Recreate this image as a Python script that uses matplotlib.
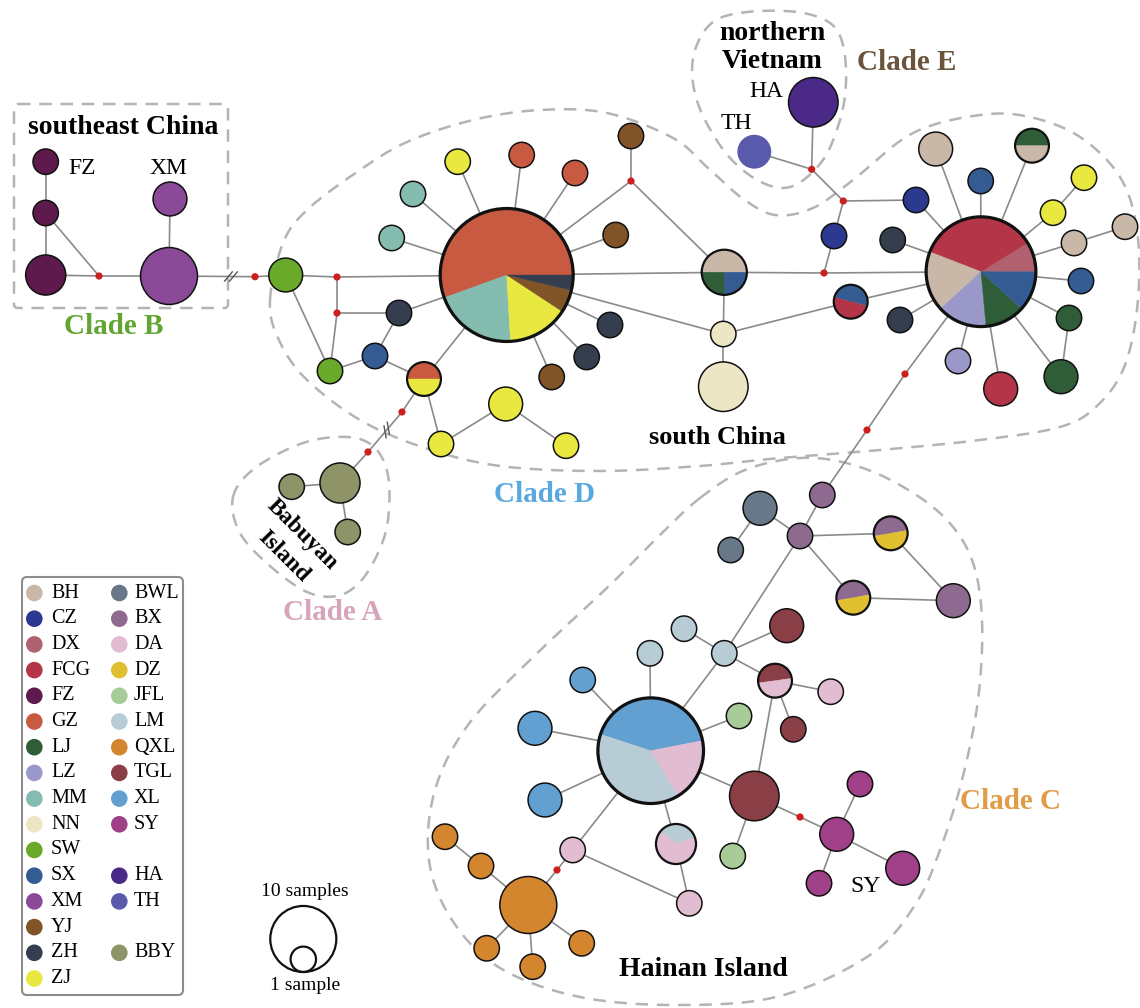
"""
Median-joining haplotype network of the five clades (A-E).
Nodes are pies sized by sample count, coloured by population.
Output: out.png
"""

import numpy as np
import matplotlib
matplotlib.use("Agg")
import matplotlib.pyplot as plt
from matplotlib.patches import Circle, Wedge, FancyBboxPatch

plt.rcParams["font.family"] = ["Liberation Serif", "DejaVu Serif"]

# population colours
POP_COLORS = {
    "BH": "#c9b8a8", "CZ": "#2b3990", "DX": "#b0606e", "FCG": "#b33547",
    "FZ": "#5e1a4c", "GZ": "#c85a42", "LJ": "#2f5d38", "LZ": "#9a98c8",
    "MM": "#84bcb0", "NN": "#ede6c4", "SW": "#6aaa2a", "SX": "#345c92",
    "XM": "#8a4a98", "YJ": "#805426", "ZH": "#343e4e", "ZJ": "#e8e840",
    "BWL": "#687888", "BX": "#8e6a90", "DA": "#e2bcd0", "DZ": "#e0c030",
    "JFL": "#a8cc98", "LM": "#b8ccd6", "QXL": "#d4862e", "TGL": "#8a3e46",
    "XL": "#62a0d2", "SY": "#a04088", "HA": "#4a2a86", "TH": "#5a5aac",
    "BBY": "#8e9468",
}

# legend layout: (population, row) per column
legend_left = ["BH", "CZ", "DX", "FCG", "FZ", "GZ", "LJ", "LZ", "MM", "NN",
               "SW", "SX", "XM", "YJ", "ZH", "ZJ"]
legend_right = [("BWL", 0), ("BX", 1), ("DA", 2), ("DZ", 3), ("JFL", 4),
                ("LM", 5), ("QXL", 6), ("TGL", 7), ("XL", 8), ("SY", 9),
                ("HA", 11), ("TH", 12), ("BBY", 14)]

# ---- haplotype nodes: id, x, y, {population: samples}, start angle of first slice
clade_b_nodes = [
    ("b1", 45.7, 161.7, {"FZ": 1}, 0),
    ("b2", 45.7, 213.0, {"FZ": 1}, 0),
    ("b3", 45.7, 275.0, {"FZ": 3}, 0),
    ("b4", 170.0, 199.0, {"XM": 2}, 0),
    ("b5", 169.0, 276.0, {"XM": 7}, 0),
]
clade_d_nodes = [
    ("d_sw", 285.7, 275.0, {"SW": 2}, 0),
    ("d_sw2", 330.0, 371.0, {"SW": 1}, 0),
    ("d_zh1", 399.0, 313.0, {"ZH": 1}, 0),
    ("d_sx", 375.0, 356.0, {"SX": 1}, 0),
    ("d_gzzj", 424.0, 379.0, {"GZ": 1, "ZJ": 1}, 0),
    ("d_gz", 506.7, 275.0, {"GZ": 30, "MM": 11, "ZJ": 8, "YJ": 3, "ZH": 2}, 0),
    ("d_zj1", 457.7, 161.7, {"ZJ": 1}, 0),
    ("d_gz1", 521.7, 155.0, {"GZ": 1}, 0),
    ("d_gz2", 575.0, 173.0, {"GZ": 1}, 0),
    ("d_yj1", 631.0, 136.0, {"YJ": 1}, 0),
    ("d_yj2", 615.7, 235.0, {"YJ": 1}, 0),
    ("d_mm1", 413.0, 194.0, {"MM": 1}, 0),
    ("d_mm2", 391.7, 238.0, {"MM": 1}, 0),
    ("d_zh2", 610.0, 325.0, {"ZH": 1}, 0),
    ("d_zh3", 586.7, 357.0, {"ZH": 1}, 0),
    ("d_yj3", 551.7, 377.0, {"YJ": 1}, 0),
    ("d_zj2", 505.7, 404.0, {"ZJ": 2}, 0),
    ("d_zj3", 441.0, 444.0, {"ZJ": 1}, 0),
    ("d_zj4", 566.0, 445.7, {"ZJ": 1}, 0),
]
south_china_nodes = [
    ("s_mix", 724.3, 272.3, {"BH": 2, "LJ": 1, "SX": 1}, 0),
    ("s_nn1", 723.3, 334.0, {"NN": 1}, 0),
    ("s_nn2", 723.3, 386.7, {"NN": 5}, 0),
    ("s_big", 981.0, 271.7, {"DX": 3, "FCG": 12, "BH": 6, "LZ": 5, "LJ": 4, "SX": 4}, 0),
    ("s_sxfcg", 850.7, 301.7, {"SX": 1, "FCG": 1}, -15),
    ("s_cz1", 834.0, 236.0, {"CZ": 1}, 0),
    ("s_cz2", 916.0, 200.0, {"CZ": 1}, 0),
    ("s_zh1", 892.7, 240.0, {"ZH": 1}, 0),
    ("s_zh2", 900.0, 320.0, {"ZH": 1}, 0),
    ("s_bh1", 935.7, 149.0, {"BH": 2}, 0),
    ("s_sx1", 980.7, 181.0, {"SX": 1}, 0),
    ("s_ljbh", 1032.0, 145.7, {"LJ": 1, "BH": 1}, 0),
    ("s_zj1", 1053.0, 212.7, {"ZJ": 1}, 0),
    ("s_zj2", 1084.0, 177.7, {"ZJ": 1}, 0),
    ("s_bh2", 1074.0, 243.0, {"BH": 1}, 0),
    ("s_bh3", 1125.0, 226.7, {"BH": 1}, 0),
    ("s_sx2", 1081.0, 281.0, {"SX": 1}, 0),
    ("s_lj1", 1069.0, 318.0, {"LJ": 1}, 0),
    ("s_lj2", 1061.0, 376.7, {"LJ": 2}, 0),
    ("s_fcg", 1000.7, 389.0, {"FCG": 2}, 0),
    ("s_lz", 958.0, 361.0, {"LZ": 1}, 0),
]
clade_e_nodes = [
    ("e_ha", 813.3, 102.3, {"HA": 5}, 0),
    ("e_th", 754.3, 151.7, {"TH": 2}, 0),
]
clade_a_nodes = [
    ("a1", 291.7, 486.7, {"BBY": 1}, 0),
    ("a2", 340.0, 483.0, {"BBY": 3}, 0),
    ("a3", 347.7, 532.0, {"BBY": 1}, 0),
]
clade_c_nodes = [
    ("c_bx1", 822.3, 495.0, {"BX": 1}, 0),
    ("c_bwl1", 760.0, 508.3, {"BWL": 2}, 0),
    ("c_bwl2", 730.7, 550.0, {"BWL": 1}, 0),
    ("c_bx2", 800.0, 536.0, {"BX": 1}, 0),
    ("c_bxdz1", 890.7, 533.3, {"BX": 1, "DZ": 1}, 10),
    ("c_bxdz2", 853.3, 597.7, {"BX": 1, "DZ": 1}, 10),
    ("c_bx3", 953.3, 600.7, {"BX": 2}, 0),
    ("c_lm1", 684.0, 628.7, {"LM": 1}, 0),
    ("c_lm2", 724.3, 653.3, {"LM": 1}, 0),
    ("c_tgl1", 786.7, 625.7, {"TGL": 2}, 0),
    ("c_tglda", 775.0, 680.7, {"TGL": 1, "DA": 1}, 8),
    ("c_da1", 830.7, 691.7, {"DA": 1}, 0),
    ("c_tgl2", 793.3, 729.3, {"TGL": 1}, 0),
    ("c_lm3", 650.0, 653.3, {"LM": 1}, 0),
    ("c_xl1", 582.7, 680.0, {"XL": 1}, 0),
    ("c_xl2", 535.0, 728.3, {"XL": 2}, 0),
    ("c_jfl1", 739.0, 716.0, {"JFL": 1}, 0),
    ("c_big", 650.7, 750.7, {"XL": 13, "LM": 12, "DA": 6}, 11),
    ("c_xl3", 545.0, 800.0, {"XL": 2}, 0),
    ("c_tgl3", 754.3, 796.0, {"TGL": 5}, 0),
    ("c_lmda", 676.0, 844.0, {"LM": 1, "DA": 2}, 20),
    ("c_da2", 572.7, 850.0, {"DA": 1}, 0),
    ("c_qxl", 528.3, 905.0, {"QXL": 7}, 0),
    ("c_qxl1", 445.0, 836.7, {"QXL": 1}, 0),
    ("c_qxl2", 481.0, 866.0, {"QXL": 1}, 0),
    ("c_qxl3", 486.7, 948.3, {"QXL": 1}, 0),
    ("c_qxl4", 532.7, 966.7, {"QXL": 1}, 0),
    ("c_qxl5", 581.7, 943.3, {"QXL": 1}, 0),
    ("c_da3", 689.3, 903.3, {"DA": 1}, 0),
    ("c_jfl2", 732.7, 856.0, {"JFL": 1}, 0),
    ("c_sy1", 836.7, 834.3, {"SY": 2}, 0),
    ("c_sy2", 860.0, 784.0, {"SY": 1}, 0),
    ("c_sy3", 902.7, 868.3, {"SY": 2}, 0),
    ("c_sy4", 819.0, 883.3, {"SY": 1}, 0),
]

# median vectors (missing haplotypes)
median_vectors = {
    "m1": (99.0, 276.0), "m2": (255.0, 276.7),
    "m3": (337.0, 277.0), "m4": (337.0, 313.0), "m5": (631.0, 181.0),
    "m6": (402.0, 412.0), "m7": (368.0, 452.0),
    "m8": (811.7, 169.3), "m9": (843.3, 201.0), "m10": (824.0, 273.0),
    "m11": (905.0, 374.0), "m12": (867.0, 430.0),
    "m13": (557.0, 870.0), "m14": (800.0, 817.0),
}

edges = [
    # clade B
    ("b1", "b2"), ("b2", "b3"), ("b2", "m1"), ("b3", "m1"), ("m1", "b5"),
    ("b4", "b5"), ("b5", "m2"), ("m2", "d_sw"),
    # clade D
    ("d_sw", "m3"), ("m3", "d_gz"), ("m3", "m4"), ("m4", "d_zh1"), ("m4", "d_sw2"),
    ("d_sw", "d_sw2"), ("d_sw2", "d_sx"), ("d_sx", "d_zh1"), ("d_sx", "d_gzzj"),
    ("d_zh1", "d_gz"), ("d_gzzj", "d_gz"), ("d_gzzj", "d_zj3"), ("d_zj3", "d_zj2"),
    ("d_zj2", "d_zj4"), ("d_gzzj", "m6"), ("m6", "m7"), ("m7", "a2"),
    ("d_gz", "d_zj1"), ("d_gz", "d_gz1"), ("d_gz", "d_gz2"), ("d_gz", "d_yj2"),
    ("d_gz", "d_mm1"), ("d_gz", "d_mm2"), ("d_gz", "d_zh2"), ("d_gz", "d_zh3"),
    ("d_gz", "d_yj3"), ("d_gz", "m5"), ("m5", "d_yj1"), ("m5", "s_mix"),
    ("d_gz", "s_mix"), ("d_gz", "s_nn1"),
    # south China and clade E
    ("s_mix", "s_nn1"), ("s_nn1", "s_nn2"), ("s_nn1", "s_sxfcg"), ("s_sxfcg", "s_big"),
    ("s_mix", "m10"), ("m10", "s_big"), ("m10", "s_cz1"), ("s_cz1", "m9"),
    ("m9", "s_cz2"), ("m9", "m8"), ("m8", "e_ha"), ("m8", "e_th"), ("s_cz2", "s_big"),
    ("s_big", "s_zh1"), ("s_big", "s_zh2"), ("s_big", "s_bh1"), ("s_big", "s_sx1"),
    ("s_big", "s_ljbh"), ("s_big", "s_zj1"), ("s_big", "s_bh2"), ("s_big", "s_sx2"),
    ("s_big", "s_lj1"), ("s_big", "s_lj2"), ("s_big", "s_fcg"), ("s_big", "s_lz"),
    ("s_zj1", "s_zj2"), ("s_bh2", "s_bh3"), ("s_lj1", "s_lj2"),
    ("s_big", "m11"), ("m11", "m12"), ("m12", "c_bx1"),
    # clade A
    ("a2", "a1"), ("a2", "a3"),
    # clade C
    ("c_bx1", "c_bx2"), ("c_bwl1", "c_bx2"), ("c_bwl1", "c_bwl2"),
    ("c_bx2", "c_bxdz1"), ("c_bx2", "c_bxdz2"), ("c_bxdz1", "c_bx3"), ("c_bxdz2", "c_bx3"),
    ("c_bx2", "c_lm2"), ("c_lm2", "c_lm1"), ("c_lm2", "c_tgl1"), ("c_lm2", "c_tglda"),
    ("c_lm2", "c_big"), ("c_tglda", "c_da1"), ("c_tglda", "c_tgl2"), ("c_tglda", "c_tgl3"),
    ("c_big", "c_lm3"), ("c_big", "c_xl1"), ("c_big", "c_xl2"), ("c_big", "c_jfl1"),
    ("c_big", "c_xl3"), ("c_big", "c_tgl3"), ("c_big", "c_lmda"), ("c_big", "c_da2"),
    ("c_da2", "m13"), ("m13", "c_qxl"), ("c_da2", "c_da3"), ("c_lmda", "c_da3"),
    ("c_qxl", "c_qxl2"), ("c_qxl2", "c_qxl1"), ("c_qxl", "c_qxl3"), ("c_qxl", "c_qxl4"),
    ("c_qxl", "c_qxl5"), ("c_tgl3", "c_jfl2"), ("c_tgl3", "m14"), ("m14", "c_sy1"),
    ("c_sy1", "c_sy2"), ("c_sy1", "c_sy3"), ("c_sy1", "c_sy4"),
]

# long branches drawn with a "//" break: edge and position along it
breaks = [("b5", "m2", 0.72), ("m6", "m7", 0.45)]

# dashed outlines of the clades (control points of closed smooth curves)
outline_d = [(270, 300), (283, 243), (307, 210), (357, 172), (407, 142), (473, 120),
             (540, 110), (607, 113), (673, 138), (708, 168), (742, 198), (775, 215),
             (813, 208), (853, 180), (913, 133), (980, 115), (1030, 117), (1080, 137),
             (1120, 177), (1137, 230), (1138, 300), (1125, 365), (1098, 405),
             (1060, 427), (980, 440), (880, 450), (780, 458), (700, 466), (600, 471),
             (500, 466), (425, 448), (360, 420), (305, 378), (278, 338)]
outline_e = [(695, 50), (713, 22), (747, 12), (797, 12), (830, 23), (843, 45),
             (846, 83), (840, 120), (823, 160), (793, 186), (763, 183), (730, 158),
             (704, 118), (693, 83)]
outline_a = [(233, 497), (255, 468), (303, 443), (347, 437), (374, 447), (388, 475),
             (388, 520), (378, 553), (360, 582), (337, 596), (307, 592), (270, 566),
             (240, 533)]
outline_c = [(700, 498), (745, 470), (800, 458), (850, 464), (900, 485), (945, 518),
             (972, 560), (982, 620), (978, 700), (962, 780), (940, 850), (915, 905),
             (870, 955), (780, 996), (680, 1005), (580, 997), (500, 968), (452, 920),
             (429, 860), (435, 790), (468, 725), (530, 660), (610, 585), (660, 535)]

# sample-count scale
scale_counts = [10, 1]


def node_radius(n):
    """Circle radius (px) for a haplotype of n samples."""
    return 12.7 * n ** 0.415


def smooth_closed(points, steps=24):
    """Closed Catmull-Rom curve through the control points."""
    p = np.asarray(points, dtype=float)
    k = len(p)
    t = np.linspace(0, 1, steps, endpoint=False)[:, None]
    segs = []
    for i in range(k):
        p0, p1, p2, p3 = p[i - 1], p[i], p[(i + 1) % k], p[(i + 2) % k]
        segs.append(0.5 * (2 * p1 + (p2 - p0) * t
                           + (2 * p0 - 5 * p1 + 4 * p2 - p3) * t ** 2
                           + (3 * p1 - p0 - 3 * p2 + p3) * t ** 3))
    curve = np.vstack(segs)
    return np.vstack([curve, curve[:1]])


def draw_node(ax, x, y, comp, start):
    total = sum(comp.values())
    r = node_radius(total)
    if total >= 20:
        lw = 2.3
    elif len(comp) > 1:
        lw = 1.6
    else:
        lw = 1.1
    if len(comp) == 1:
        pop = next(iter(comp))
        edge = "none" if pop == "TH" else "#111111"
        ax.add_patch(Circle((x, y), r, facecolor=POP_COLORS[pop], edgecolor=edge,
                            lw=lw, zorder=3))
        return
    # y axis is inverted, so screen angle a is data angle -a
    a = start
    for pop, n in comp.items():
        span = 360.0 * n / total
        ax.add_patch(Wedge((x, y), r, -(a + span), -a, facecolor=POP_COLORS[pop],
                           edgecolor=POP_COLORS[pop], lw=0.3, zorder=3))
        a += span
    ax.add_patch(Circle((x, y), r, facecolor="none", edgecolor="#111111", lw=lw, zorder=4))


fig = plt.figure(figsize=(11.4, 10.08), dpi=100)
ax = fig.add_axes([0, 0, 1, 1])
ax.set_xlim(0, 1140)
ax.set_ylim(1008, 0)
ax.axis("off")

all_nodes = (clade_b_nodes + clade_d_nodes + south_china_nodes + clade_e_nodes
             + clade_a_nodes + clade_c_nodes)
pos = {nid: (x, y) for nid, x, y, _, _ in all_nodes}
pos.update(median_vectors)

# clade outlines
dash = dict(color="#b4b4b4", lw=1.8, ls=(0, (5, 3.5)), zorder=1)
for pts in (outline_d, outline_e, outline_a, outline_c):
    c = smooth_closed(pts)
    ax.plot(c[:, 0], c[:, 1], **dash)
ax.add_patch(FancyBboxPatch((14, 104), 214, 204, boxstyle="round,pad=0,rounding_size=4",
                            facecolor="none", edgecolor="#b4b4b4", lw=1.8,
                            ls=(0, (5, 3.5)), zorder=1))

# branches
for a, b in edges:
    (x1, y1), (x2, y2) = pos[a], pos[b]
    ax.plot([x1, x2], [y1, y2], color="#8a8a8a", lw=1.2, zorder=2,
            solid_capstyle="butt")

for a, b, t in breaks:
    (x1, y1), (x2, y2) = pos[a], pos[b]
    d = np.array([x2 - x1, y2 - y1])
    d = d / np.hypot(*d)
    nrm = np.array([-d[1], d[0]])
    mid = np.array([x1, y1]) + t * np.array([x2 - x1, y2 - y1])
    slash = 0.55 * nrm - 0.45 * d
    slash = slash / np.hypot(*slash)
    for off in (-2.5, 2.5):
        c = mid + off * d
        ax.plot([c[0] - 6 * slash[0], c[0] + 6 * slash[0]],
                [c[1] - 6 * slash[1], c[1] + 6 * slash[1]],
                color="#555555", lw=1.0, zorder=2.5)

# median vectors
for x, y in median_vectors.values():
    ax.add_patch(Circle((x, y), 3.6, facecolor="#cc1f1f", edgecolor="none", zorder=3))

# haplotypes
for nid, x, y, comp, start in all_nodes:
    draw_node(ax, x, y, comp, start)

# region and clade labels
bold = dict(fontweight="bold", ha="center", va="center", zorder=5)
ax.text(122.7, 127, "southeast China", fontsize=20, **bold)
ax.text(772, 33, "northern", fontsize=20, **bold)
ax.text(772, 62, "Vietnam", fontsize=20, **bold)
ax.text(717, 437, "south China", fontsize=19, **bold)
ax.text(703, 969, "Hainan Island", fontsize=20, **bold)
ax.text(302, 535, "Babuyan", fontsize=17, rotation=-45, **bold)
ax.text(284, 557, "Island", fontsize=17, rotation=-45, **bold)

ax.text(114, 327, "Clade B", fontsize=21, color="#62a532", **bold)
ax.text(906.7, 62, "Clade E", fontsize=21, color="#6b543c", **bold)
ax.text(544, 494, "Clade D", fontsize=21, color="#5aa8e0", **bold)
ax.text(333, 613, "Clade A", fontsize=21, color="#d8a4bc", **bold)
ax.text(1010.7, 801.7, "Clade C", fontsize=21, color="#e09c46", **bold)

reg = dict(ha="center", va="center", fontsize=17, zorder=5)
ax.text(82, 168, "FZ", **reg)
ax.text(168, 168, "XM", **reg)
ax.text(766.7, 91.7, "HA", **reg)
ax.text(736.7, 123.3, "TH", **reg)
ax.text(866, 886, "SY", **reg)

# legend of populations
ax.add_patch(FancyBboxPatch((22, 577), 161, 418, boxstyle="round,pad=0,rounding_size=5",
                            facecolor="white", edgecolor="#8c8c8c", lw=1.5, zorder=5))
row_y0, row_dy = 593.0, 25.7
for i, pop in enumerate(legend_left):
    y = row_y0 + i * row_dy
    ax.add_patch(Circle((34.3, y), 8.3, facecolor=POP_COLORS[pop], edgecolor="none", zorder=6))
    ax.text(51, y, pop, fontsize=14.5, ha="left", va="center", zorder=6)
for pop, row in legend_right:
    y = row_y0 + row * row_dy
    ax.add_patch(Circle((119.3, y), 8.3, facecolor=POP_COLORS[pop], edgecolor="none", zorder=6))
    ax.text(134, y, pop, fontsize=14.5, ha="left", va="center", zorder=6)

# sample-size scale, circles resting on a common baseline
base_y = 972.0
for n in scale_counts:
    r = node_radius(n)
    ax.add_patch(Circle((303.3, base_y - r), r, facecolor="none", edgecolor="#111111",
                        lw=1.6, zorder=5))
ax.text(305, 892, "10 samples", fontsize=14, ha="center", va="center")
ax.text(305, 986, "1 sample", fontsize=14, ha="center", va="center")

fig.savefig("out.png", dpi=100, facecolor="white")
plt.close(fig)
